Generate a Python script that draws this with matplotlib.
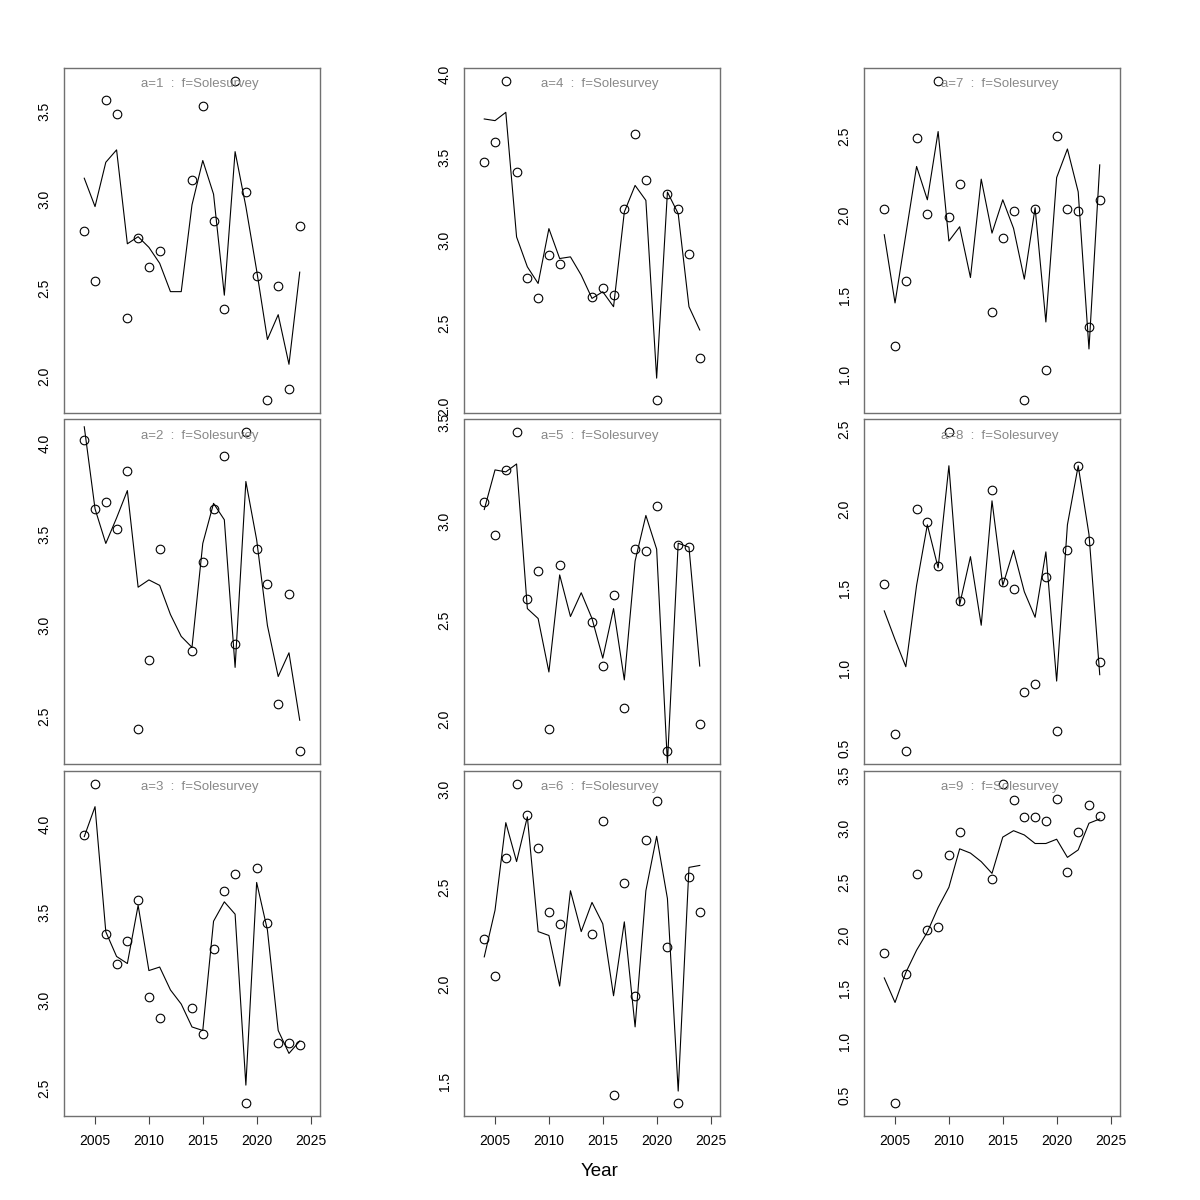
import matplotlib.pyplot as plt
from matplotlib.ticker import MultipleLocator, FormatStrFormatter

plt.rcParams['font.family'] = ['Liberation Sans', 'DejaVu Sans']

# all model years, and the survey years that have an observation
years = list(range(2004, 2025))
obs_years = [2004, 2005, 2006, 2007, 2008, 2009, 2010, 2011,
             2014, 2015, 2016, 2017, 2018, 2019, 2020, 2021, 2022, 2023, 2024]

# observed index (circles) and fitted index (line) per age
obs_a1 = [2.82, 2.54, 3.56, 3.48, 2.33, 2.78, 2.62, 2.71,
          3.11, 3.53, 2.88, 2.38, 3.67, 3.04, 2.57, 1.87, 2.51, 1.93, 2.85]
fit_a1 = [3.12, 2.96, 3.21, 3.28, 2.75, 2.79, 2.73, 2.64, 2.48, 2.48,
          2.97, 3.22, 3.03, 2.46, 3.27, 2.96, 2.60, 2.21, 2.35, 2.07, 2.59]

obs_a2 = [4.02, 3.64, 3.68, 3.53, 3.85, 2.43, 2.81, 3.42,
          2.86, 3.35, 3.64, 3.93, 2.90, 4.06, 3.42, 3.23, 2.57, 3.17, 2.31]
fit_a2 = [4.09, 3.64, 3.45, 3.59, 3.74, 3.21, 3.25, 3.22, 3.06, 2.94,
          2.88, 3.45, 3.67, 3.58, 2.77, 3.79, 3.47, 3.00, 2.72, 2.85, 2.48]

obs_a3 = [3.94, 4.23, 3.38, 3.21, 3.34, 3.57, 3.02, 2.90,
          2.96, 2.81, 3.29, 3.62, 3.72, 2.42, 3.75, 3.44, 2.76, 2.76, 2.75]
fit_a3 = [3.93, 4.10, 3.39, 3.25, 3.21, 3.54, 3.17, 3.19, 3.06, 2.98,
          2.85, 2.83, 3.45, 3.56, 3.49, 2.52, 3.67, 3.40, 2.83, 2.70, 2.77]

obs_a4 = [3.47, 3.59, 3.96, 3.41, 2.77, 2.65, 2.91, 2.86,
          2.66, 2.71, 2.67, 3.19, 3.64, 3.36, 2.04, 3.28, 3.19, 2.92, 2.29]
fit_a4 = [3.73, 3.72, 3.77, 3.02, 2.84, 2.74, 3.07, 2.89, 2.90, 2.79,
          2.65, 2.69, 2.60, 3.17, 3.33, 3.24, 2.17, 3.29, 3.16, 2.60, 2.46]

obs_a5 = [3.10, 2.93, 3.26, 3.45, 2.61, 2.75, 1.95, 2.78,
          2.49, 2.27, 2.63, 2.06, 2.86, 2.85, 3.08, 1.84, 2.88, 2.87, 1.98]
fit_a5 = [3.06, 3.26, 3.25, 3.29, 2.56, 2.51, 2.24, 2.73, 2.52, 2.64,
          2.51, 2.31, 2.56, 2.20, 2.80, 3.03, 2.86, 1.78, 2.89, 2.87, 2.27]

obs_a6 = [2.23, 2.04, 2.65, 3.03, 2.87, 2.70, 2.37, 2.31,
          2.26, 2.84, 1.43, 2.52, 1.94, 2.74, 2.94, 2.19, 1.39, 2.55, 2.37]
fit_a6 = [2.14, 2.38, 2.83, 2.63, 2.86, 2.27, 2.25, 1.99, 2.48, 2.27,
          2.42, 2.31, 1.94, 2.32, 1.78, 2.48, 2.76, 2.44, 1.45, 2.60, 2.61]

obs_a7 = [2.04, 1.18, 1.59, 2.49, 2.01, 2.85, 1.99, 2.20,
          1.39, 1.86, 2.03, 0.84, 2.04, 1.03, 2.50, 2.04, 2.03, 1.30, 2.10]
fit_a7 = [1.88, 1.45, 1.88, 2.31, 2.10, 2.53, 1.84, 1.93, 1.61, 2.23,
          1.89, 2.10, 1.92, 1.60, 2.05, 1.33, 2.24, 2.42, 2.15, 1.16, 2.32]

obs_a8 = [1.53, 0.59, 0.48, 2.00, 1.92, 1.64, 2.48, 1.42,
          2.12, 1.54, 1.50, 0.85, 0.90, 1.57, 0.61, 1.74, 2.27, 1.80, 1.04]
fit_a8 = [1.36, 1.18, 1.01, 1.52, 1.90, 1.63, 2.27, 1.40, 1.70, 1.27,
          2.05, 1.52, 1.74, 1.48, 1.32, 1.73, 0.92, 1.90, 2.27, 1.84, 0.96]

obs_a9 = [1.83, 0.43, 1.64, 2.57, 2.05, 2.08, 2.75, 2.97,
          2.53, 3.42, 3.27, 3.11, 3.11, 3.07, 3.28, 2.59, 2.97, 3.22, 3.12]
fit_a9 = [1.60, 1.37, 1.65, 1.86, 2.03, 2.26, 2.45, 2.81, 2.77, 2.69,
          2.58, 2.92, 2.98, 2.94, 2.86, 2.86, 2.90, 2.73, 2.80, 3.05, 3.09]

ages = [1, 2, 3, 4, 5, 6, 7, 8, 9]
obs_all = [obs_a1, obs_a2, obs_a3, obs_a4, obs_a5, obs_a6, obs_a7, obs_a8, obs_a9]
fit_all = [fit_a1, fit_a2, fit_a3, fit_a4, fit_a5, fit_a6, fit_a7, fit_a8, fit_a9]

fig = plt.figure(figsize=(12, 12), dpi=100)
W = H = 1200.0
col_left = [64, 464, 864]
row_top = [68, 419.5, 771]
box_w, box_h = 256, 344.5
frame_col = '#707070'

for i, age in enumerate(ages):
    col, row = i // 3, i % 3
    ax = fig.add_axes([col_left[col] / W, 1 - (row_top[row] + box_h) / H,
                       box_w / W, box_h / H])
    obs = obs_all[i]
    fit = fit_all[i]

    ax.plot(years, fit, color='black', lw=0.8)
    ax.plot(obs_years, obs, 'o', mfc='none', mec='black', ms=6.2, mew=0.8)

    # R-style range: observations plus 4% each side
    lo, hi = min(obs), max(obs)
    pad = 0.04 * (hi - lo)
    ax.set_ylim(lo - pad, hi + pad)
    ax.set_xlim(2002.12, 2025.88)

    ax.yaxis.set_major_locator(MultipleLocator(0.5))
    ax.yaxis.set_major_formatter(FormatStrFormatter('%.1f'))
    ax.tick_params(axis='y', length=0, pad=9, labelsize=10, labelrotation=90)
    for lab in ax.get_yticklabels():
        lab.set_va('center')

    ax.set_xticks([2005, 2010, 2015, 2020, 2025])
    if row == 2:
        ax.tick_params(axis='x', length=5.5, width=0.8, color='#444444',
                       labelsize=10, pad=8)
    else:
        ax.tick_params(axis='x', length=0, labelbottom=False)

    for sp in ax.spines.values():
        sp.set_color(frame_col)
        sp.set_linewidth(1.0)

    ax.text(0.531, 0.953, 'a=%d  :  f=Solesurvey' % age, transform=ax.transAxes,
            ha='center', va='center', color='#888888', fontsize=9.5)

fig.text(0.5, 1 - 1171 / H, 'Year', ha='center', va='center', fontsize=13.5)

fig.savefig('out.png', dpi=100)
